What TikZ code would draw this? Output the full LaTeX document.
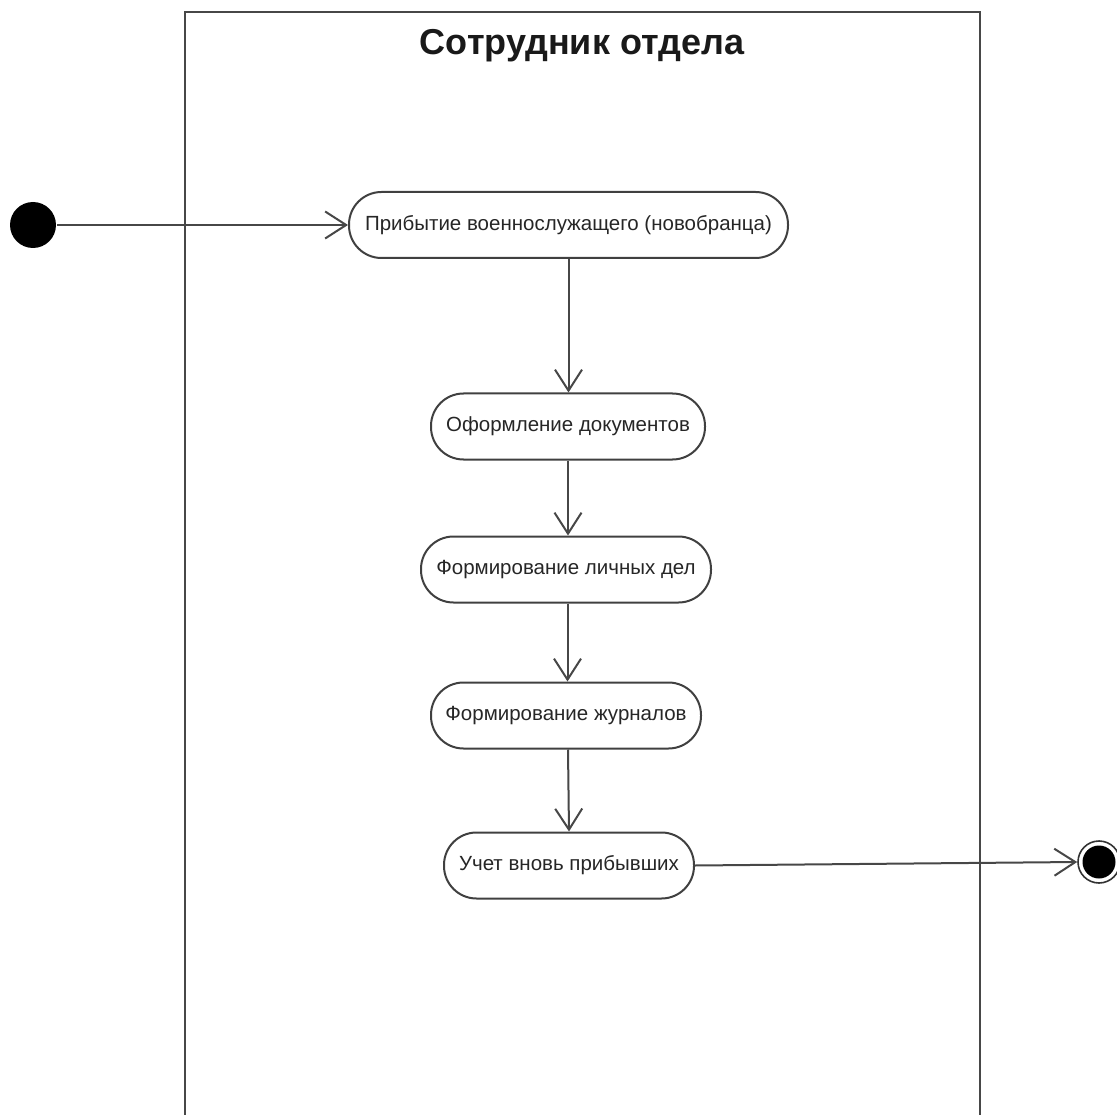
\documentclass[tikz,border=0pt]{standalone}
\usepackage{fontspec}
\setmainfont{Liberation Sans}
\usetikzlibrary{arrows.meta}
\begin{document}
\begin{tikzpicture}[x=1pt,y=-1pt,
  line width=2pt,
  action/.style={draw=black!75, line width=2pt, rounded corners=32.5pt, minimum height=66pt,
    inner sep=0pt, font=\fontsize{20.5}{24}\selectfont, text=black!85},
  flow/.style={draw=black!72, line width=2pt,
    -{Straight Barb[length=21pt,width=27pt,line width=2pt]}},
  startdot/.style={circle, fill=black, minimum size=46pt, inner sep=0pt},
  enddot/.style={circle, draw=black!80, line width=1.6pt, fill=white, minimum size=42pt, inner sep=0pt,
    path picture={\fill[black] (path picture bounding box.center) circle (16.5pt);}}
]
\useasboundingbox (0,0) rectangle (1117,1115);

% swimlane
\draw[black!72, line width=2pt] (185,1116) -- (185,12) -- (980,12) -- (980,1116);
\node[font=\bfseries\fontsize{36}{42}\selectfont, text=black!90] (lane) at (582,46) {Сотрудник отдела};

% start and final states
\node[startdot] (start) at (33,225) {};
\node[enddot] (final) at (1099,862) {};

% actions
\node[action, minimum width=439pt] (a1) at (568.5,225) {Прибытие военнослужащего (новобранца)};
\node[action, minimum width=274pt] (a2) at (568,426.5) {Оформление документов};
\node[action, minimum width=290pt] (a3) at (566,569.5) {Формирование личных дел};
\node[action, minimum width=270pt] (a4) at (566,715.5) {Формирование журналов};
\node[action, minimum width=250pt] (a5) at (569,865.5) {Учет вновь прибывших};

% transitions
\draw[flow] (start.east) -- (a1.west);
\draw[flow] (a1.south) -- (a1.south |- a2.north);
\draw[flow] (a2.south) -- (a2.south |- a3.north);
\draw[flow] (a3.south) ++(1.5,0) coordinate (a3s) (a3s) -- (a3s |- a4.north);
\draw[flow] (a4.south) ++(2,0) coordinate (a4s) (a4s) -- (a5.north);
\draw[flow] (a5.east) -- (final.west);
\end{tikzpicture}
\end{document}
